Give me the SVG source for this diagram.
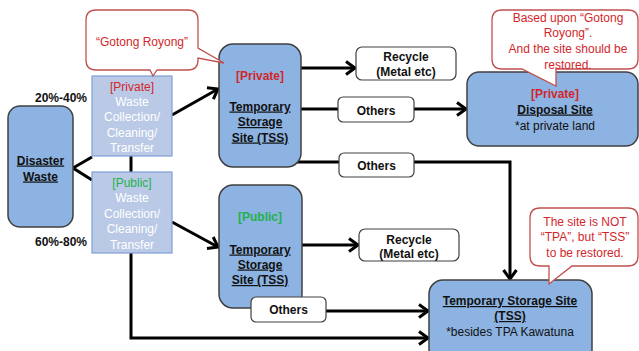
<svg xmlns="http://www.w3.org/2000/svg" width="639" height="351" viewBox="0 0 639 351">
<style>
text{font-family:"Liberation Sans",Arial,sans-serif;font-size:12px;text-anchor:middle}
.b{font-weight:bold;fill:#111}
.u{text-decoration:underline}
.w{fill:#fff}
.red{fill:#D3262B}
.grn{fill:#22B14C}
.blue{fill:#8DB3E2;stroke:#404040;stroke-width:1.5}
.col{fill:#BACAE6;stroke:#7F9FD5;stroke-width:1.2}
.lbl{fill:#fff;stroke:#404040;stroke-width:1.2}
.call{fill:#fff;stroke:#C0504D;stroke-width:1.3}
.ln{fill:none;stroke:#000;stroke-width:3}
</style>
<defs>
<marker id="ah" markerWidth="14" markerHeight="16" refX="11" refY="8" orient="auto" markerUnits="userSpaceOnUse">
<path d="M2,1.5 L11,8 L2,14.5" fill="none" stroke="#000" stroke-width="3"/>
</marker>
</defs>
<rect width="639" height="351" fill="#fff"/>

<g id="connectors">
<polyline class="ln" points="92,157 73,168 92,180"/>
<line class="ln" x1="131" y1="156" x2="131" y2="172"/>
<line class="ln" x1="172" y1="115" x2="218" y2="89" marker-end="url(#ah)"/>
<line class="ln" x1="172" y1="222" x2="218" y2="247" marker-end="url(#ah)"/>
<line class="ln" x1="298" y1="68" x2="355" y2="68" marker-end="url(#ah)"/>
<line class="ln" x1="298" y1="109" x2="466" y2="109" marker-end="url(#ah)"/>
<polyline class="ln" points="296,162 510,162 510,279" marker-end="url(#ah)"/>
<line class="ln" x1="300" y1="245" x2="358" y2="245" marker-end="url(#ah)"/>
<line class="ln" x1="320" y1="311" x2="428" y2="311" marker-end="url(#ah)"/>
<polyline class="ln" points="131,250 131,338 428,338" marker-end="url(#ah)"/>
</g>

<g id="disaster">
<rect class="blue" x="8" y="106" width="65" height="121" rx="12"/>
<text class="b u" x="40.5" y="164.5">Disaster</text>
<text class="b u" x="40.5" y="180.5">Waste</text>
</g>
<g id="pct-private"><text class="b" x="61" y="101.5">20%-40%</text></g>
<g id="pct-public"><text class="b" x="61" y="246">60%-80%</text></g>

<g id="collect-private">
<rect class="col" x="92" y="76" width="80" height="80"/>
<text class="red" x="132" y="90.5">[Private]</text>
<text class="w" x="132" y="106">Waste</text>
<text class="w" x="132" y="121">Collection/</text>
<text class="w" x="132" y="136.5">Cleaning/</text>
<text class="w" x="132" y="152">Transfer</text>
</g>

<g id="collect-public">
<rect class="col" x="92" y="172" width="80" height="81"/>
<text class="grn" x="132" y="187">[Public]</text>
<text class="w" x="132" y="202">Waste</text>
<text class="w" x="132" y="217.5">Collection/</text>
<text class="w" x="132" y="233">Cleaning/</text>
<text class="w" x="132" y="248.5">Transfer</text>
</g>

<g id="tss-private">
<rect class="blue" x="219" y="44" width="82" height="123" rx="14"/>
<text class="b red" x="260" y="79.5">[Private]</text>
<text class="b u" x="260" y="110.5">Temporary</text>
<text class="b u" x="260" y="126">Storage</text>
<text class="b u" x="260" y="141.5">Site (TSS)</text>
</g>

<g id="tss-public">
<rect class="blue" x="219" y="185" width="83" height="123" rx="14"/>
<text class="b grn" x="260" y="221">[Public]</text>
<text class="b u" x="260" y="253.5">Temporary</text>
<text class="b u" x="260" y="268.5">Storage</text>
<text class="b u" x="260" y="284">Site (TSS)</text>
</g>

<g id="recycle-top">
<rect class="lbl" x="356" y="47" width="100" height="33" rx="6"/>
<text class="b" x="406" y="61">Recycle</text>
<text class="b" x="406" y="75.5">(Metal etc)</text>
</g>

<g id="others-top">
<rect class="lbl" x="338" y="97" width="76" height="25" rx="5"/>
<text class="b" x="376" y="114.5">Others</text>
</g>

<g id="disposal">
<rect class="blue" x="467" y="72" width="171" height="74" rx="12"/>
<text class="b red" x="555" y="97.5">[Private]</text>
<text class="b u" x="555" y="113.5">Disposal Site</text>
<text x="555" y="130" fill="#111">*at private land</text>
</g>

<g id="others-mid">
<rect class="lbl" x="339" y="153" width="75" height="24" rx="5"/>
<text class="b" x="376.5" y="170">Others</text>
</g>

<g id="recycle-mid">
<rect class="lbl" x="359" y="229" width="100" height="32" rx="6"/>
<text class="b" x="409" y="243.5">Recycle</text>
<text class="b" x="409" y="257.5">(Metal etc)</text>
</g>

<g id="others-bottom">
<rect class="lbl" x="251" y="297" width="75" height="25" rx="5"/>
<text class="b" x="288.5" y="313.5">Others</text>
</g>

<g id="tss-bottom">
<rect class="blue" x="429" y="280" width="163" height="85" rx="14"/>
<text class="b u" x="510" y="305">Temporary Storage Site</text>
<text class="b u" x="510" y="320">(TSS)</text>
<text x="510" y="336" fill="#111">*besides TPA Kawatuna</text>
</g>

<g id="callout-gotong">
<path class="call" d="M96,10 H188 Q198,10 198,20 V48 L224,63 L198,58 V60 Q198,70 188,70 H157 L153,76 L150,70 H96 Q86,70 86,60 V20 Q86,10 96,10 Z"/>
<text class="red" x="142" y="46">“Gotong Royong”</text>
</g>

<g id="callout-disposal">
<path class="call" d="M502,10 H628 Q638,10 638,20 V59 Q638,69 628,69 H556 V86 L522,69 H502 Q492,69 492,59 V20 Q492,10 502,10 Z"/>
<text class="red" x="568" y="21.5">Based upon “Gotong</text>
<text class="red" x="568" y="37">Royong”.</text>
<text class="red" x="568" y="53">And the site should be</text>
<text class="red" x="568" y="68.5">restored.</text>
</g>

<g id="callout-tss">
<path class="call" d="M540,208 H628 Q638,208 638,218 V256 Q638,266 628,266 H572 L549,284 V266 H540 Q530,266 530,256 V218 Q530,208 540,208 Z"/>
<text class="red" x="585" y="226">The site is NOT</text>
<text class="red" x="585" y="241">“TPA”, but “TSS”</text>
<text class="red" x="585" y="256.5">to be restored.</text>
</g>
</svg>
